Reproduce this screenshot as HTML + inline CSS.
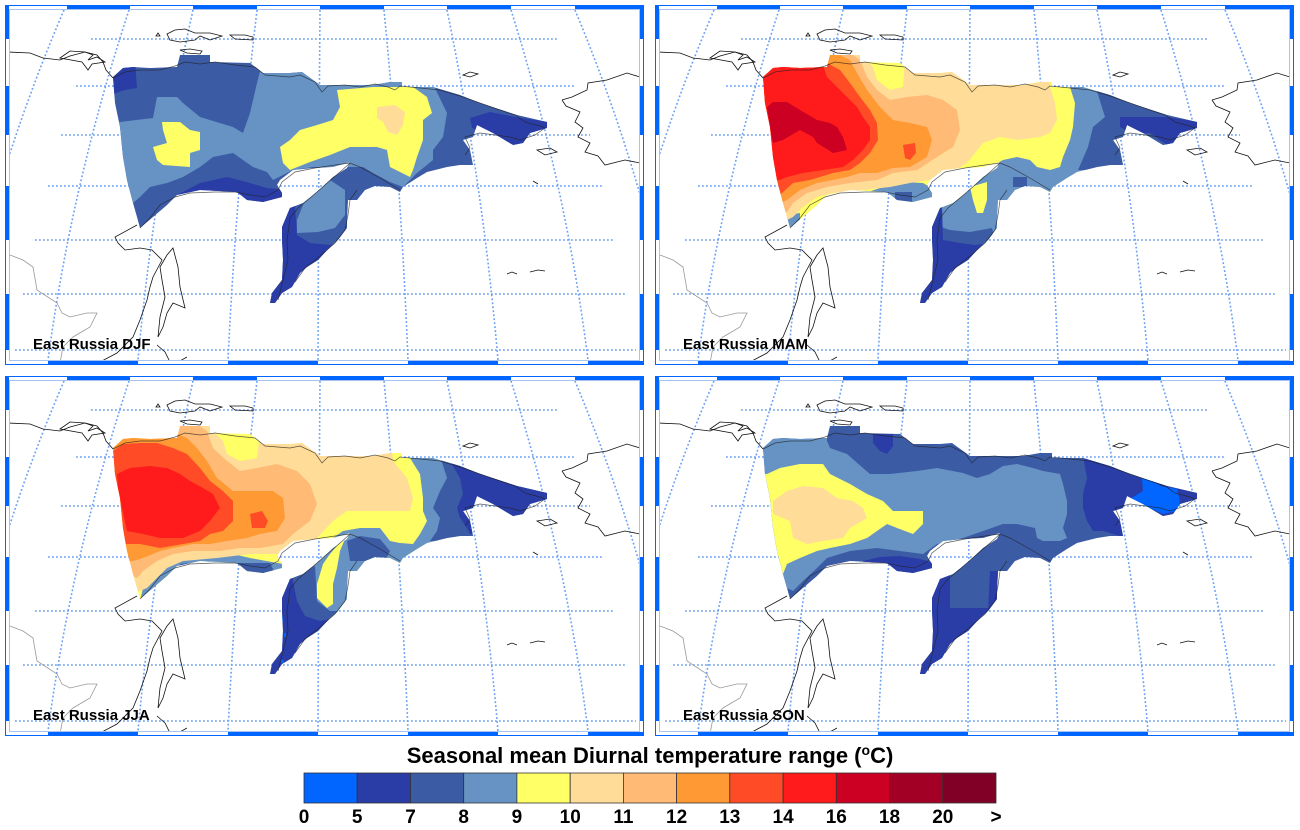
<!DOCTYPE html>
<html><head><meta charset="utf-8"><style>html,body{margin:0;padding:0;background:#fff}svg{display:block}</style></head>
<body>
<svg width="1300" height="830" viewBox="0 0 1300 830" xmlns="http://www.w3.org/2000/svg" font-family="'Liberation Sans', Arial, sans-serif">
<defs>
<clipPath id="blob"><polygon points="113,77 123,68 133,67 150,68 177,67 180,55 210,55 210,62 250,63 263,73 290,73 302,72 320,85 373,85 390,82 402,82 402,87 433,87 460,95 480,103 517,115 547,122 547,128 530,133 523,143 513,145 493,133 477,125 473,137 463,140 470,150 473,165 460,165 447,167 427,172 417,178 403,187 400,192 390,187 375,186 365,190 357,200 348,200 347,220 347,228 338,240 330,247 318,260 307,267 300,273 292,287 282,293 275,303 270,303 272,293 282,280 283,260 282,240 282,227 290,208 303,203 317,192 333,177 347,168 350,162 333,167 313,168 293,170 280,180 277,185 282,193 282,197 263,202 247,200 237,192 200,190 177,195 167,205 153,217 140,228 137,217 133,203 127,180 123,157 120,127 115,103"/></clipPath>
<clipPath id="inner"><rect x="9" y="9" width="631" height="352"/></clipPath>
<g id="bg">
<g clip-path="url(#inner)" fill="none" stroke="#6a9ff6" stroke-width="1.6" stroke-dasharray="1.8 2.2">
<path d="M91 39H558M76 86H575M61 135H590M48 186H603M35 240H615M23 294H627M15 350H636"/>
<path d="M64 10Q-11 185 -42 360M129 10Q71.5 185 48 360M193 10Q154 185 138 360M257 10Q236.4 185 228 360M320 10Q318.6 185 318 360M384 10Q401 185 408 360M447 10Q483 185 498 360M511 10Q566 185 588 360M575 10Q648 185 678 360"/>
</g>
<g clip-path="url(#inner)" fill="none" stroke="#111" stroke-width="0.8">
<path d="M8,52 L30,53 L43,58 L60,60 L70,56 L85,52 L97,55 L103,62 L106,70 L113,78"/>
<path d="M60,58 L70,51 L85,52 L93,55 L88,60 L97,57 L105,62 L92,64 L88,70 L82,62 Z"/>
<path d="M167,34 L175,30 L185,29 L195,33 L210,33 L222,36 L210,40 L200,36 L195,40 L180,42 L170,40 Z"/>
<path d="M230,35 L245,35 L253,37 L253,40 L235,39 Z"/>
<path d="M180,50 L190,49 L202,51 L200,54 L187,53 Z"/>
<path d="M156,36 L158,33 L160,36 Z"/>
<path d="M137,225 L115,237 L118,243 L125,250 L140,248 L152,250 L162,260 L153,277 L150,287 L147,300 L140,320 L133,337 L117,353 L100,362"/>
<path d="M173,248 L178,267 L180,287 L185,308 L173,303 L167,313 L163,327 L158,337 L160,317 L165,297 L162,280 L160,267 L167,255 Z"/>
<path d="M157,345 L165,352 L170,362 M178,362 L187,357"/>
<path d="M562,100 L572,97 L587,90 L588,83 L607,80 L627,73 L640,77"/>
<path d="M562,100 L566,106 L580,112 L575,122 L583,128 L578,137 L590,143 L585,152 L598,156 L605,165 L625,160 L640,163"/>
<path d="M463,75 L470,72 L478,74 L470,77 Z"/>
<path d="M537,150 L550,148 L557,152 L545,155 Z"/>
<path d="M533,181 L538,184"/>
<path d="M507,274 L512,272 L517,274 M530,272 L538,270 L545,271"/>
</g>
<path clip-path="url(#inner)" fill="none" stroke="#999" stroke-width="0.8" d="M10,255 L23,260 L33,267 L37,290 L57,303 L62,313 L70,317 L87,313 L97,313 L90,327 L73,337 L63,347 L60,363"/>
</g>
<g id="coast" fill="none" stroke="#222" stroke-width="0.7" stroke-opacity="0.75">
<path d="M113,78 L125,72 L140,70 L160,70 L175,66 L185,62 L200,64 L215,62 L235,65 L255,67 L265,75 L290,77 L300,75 L315,82 L322,92 L328,86 L345,85 L360,87 L375,84 L388,87 L395,90 L400,86 L420,88 L440,90 L460,96 L480,103 L500,110 L515,115 L525,122 L540,126 L545,128"/>
<path d="M545,128 L535,135 L520,140 L510,137 L495,135 L480,133 L465,137 L470,148 L465,155"/>
<path d="M140,228 L150,218 L160,205 L175,197 L190,193 L215,192 L235,192 L250,195 L265,197 L278,190 L282,182 L295,172 L315,168 L335,165 L350,163 L360,167 L380,178 L400,190"/>
<path d="M350,163 L340,172 L325,185 L310,198 L298,208 L290,218 L287,240 L288,260 L283,280 L278,300"/>
<path d="M357,190 L350,200 L348,215 L345,230 L335,243 L320,256 L305,268 L295,282"/>
</g>
<g id="fr">
<rect x="5.5" y="5.5" width="638" height="359" fill="none" stroke="#0066ff" stroke-width="1"/>
<rect x="9.5" y="9.5" width="630" height="351" fill="none" stroke="#a6c3f2" stroke-width="1"/>
<g fill="#0066ff">
<rect x="67" y="5" width="63" height="4"/><rect x="193" y="5" width="64" height="4"/><rect x="320" y="5" width="64" height="4"/><rect x="447" y="5" width="64" height="4"/><rect x="575" y="5" width="65" height="4"/>
<rect x="48" y="361" width="90" height="4"/><rect x="228" y="361" width="90" height="4"/><rect x="408" y="361" width="90" height="4"/><rect x="588" y="361" width="56" height="4"/>
<rect x="5" y="5" width="4" height="34"/><rect x="5" y="86" width="4" height="49"/><rect x="5" y="186" width="4" height="54"/><rect x="5" y="294" width="4" height="56"/>
<rect x="640" y="5" width="4" height="34"/><rect x="640" y="86" width="4" height="49"/><rect x="640" y="186" width="4" height="54"/><rect x="640" y="294" width="4" height="56"/>
</g>
</g>
</defs>

<!-- Panel 1 DJF -->
<g>
<use href="#bg"/>
<g clip-path="url(#blob)">
<rect x="90" y="40" width="480" height="280" fill="#3c5ba5"/>
<polygon fill="#6693c4" points="100,122 120,122 153,118 157,97 177,97 183,103 200,117 233,127 243,133 250,113 257,83 263,60 300,60 320,80 380,80 433,84 447,113 443,137 433,150 433,160 417,173 403,187 390,182 373,173 363,167 313,167 293,170 273,180 267,172 253,167 233,153 213,157 200,167 183,177 167,183 150,187 140,197 133,203 100,205"/>
<polygon fill="#6693c4" points="310,185 330,180 345,190 345,215 335,228 318,232 297,233 297,220 303,205"/>
<polygon fill="#2a3da6" points="100,60 135,60 137,88 125,90 110,95"/>
<polygon fill="#2a3da6" points="160,215 170,205 177,195 200,183 227,177 250,183 267,188 290,190 290,215"/>
<polygon fill="#2a3da6" points="275,205 295,205 297,235 310,243 330,245 350,238 350,320 260,320"/>
<polygon fill="#2a3da6" points="470,118 490,112 515,117 550,122 550,135 520,147 500,140 485,133 472,128"/>
<polygon fill="#ffff66" points="162,122 180,122 190,130 200,132 200,150 190,153 190,167 163,165 157,160 153,147 167,143 163,130"/>
<polygon fill="#ffff66" points="337,90 373,87 413,87 427,97 432,113 423,120 423,140 417,157 413,170 410,177 400,172 390,167 387,150 377,147 350,147 330,155 310,162 290,170 283,163 280,147 290,140 300,130 317,125 333,120 340,107"/>
<polygon fill="#ffdc98" points="377,107 395,105 405,112 403,125 397,135 388,132 383,122 377,118"/>
</g>
<use href="#coast"/>
<use href="#fr"/>
<text x="33" y="349" font-size="15" font-weight="bold" fill="#000">East Russia DJF</text>
</g>

<!-- Panel 2 MAM -->
<g transform="translate(650,0)">
<use href="#bg"/>
<g clip-path="url(#blob)">
<rect x="90" y="40" width="480" height="280" fill="#ffff66"/>
<polygon fill="#6693c4" points="420,60 420,87 425,103 423,127 420,140 413,157 410,167 400,170 387,167 380,160 367,157 353,160 340,167 330,177 320,183 300,195 270,220 260,320 600,320 600,60"/>
<polygon fill="#6693c4" points="210,200 215,193 233,187 253,182 273,183 285,190 285,210 210,210"/>
<polygon fill="#6693c4" points="137,215 150,213 150,225 137,228"/>
<polygon fill="#3c5ba5" points="245,192 262,192 262,202 245,202"/>
<polygon fill="#ffff66" points="320,187 337,182 337,200 333,213 327,213 323,200"/>
<polygon fill="#3c5ba5" points="445,60 445,85 455,117 443,127 438,147 428,170 600,170 600,60"/>
<polygon fill="#3c5ba5" points="363,177 377,177 377,187 363,187"/>
<polygon fill="#3c5ba5" points="285,225 300,230 320,232 342,228 345,240 330,245 285,245"/>
<polygon fill="#2a3da6" points="470,117 517,117 550,122 550,140 517,145 500,133 480,133 470,127"/>
<polygon fill="#2a3da6" points="275,205 292,205 293,240 310,243 325,245 345,242 345,320 260,320"/>
<polygon fill="#ffdc98" points="100,40 215,40 213,57 223,67 227,80 240,90 253,87 255,60 400,60 400,87 405,103 407,120 400,133 390,137 367,140 350,137 333,143 317,163 300,173 280,180 260,183 240,187 213,190 183,193 167,197 153,207 143,217 137,220 100,230"/>
<polygon fill="#ffba76" points="100,40 205,40 203,55 210,60 217,77 227,90 240,100 257,97 277,95 293,100 307,110 310,130 303,147 287,157 267,170 243,173 227,180 200,183 177,187 157,193 143,203 137,212 100,215"/>
<polygon fill="#ff9934" points="100,40 190,40 190,55 200,60 207,73 217,90 230,107 243,120 260,123 277,127 282,140 277,157 260,167 243,168 227,173 210,173 197,177 183,180 167,183 150,190 137,200 132,202 100,205"/>
<polygon fill="#ff4c26" points="100,40 177,40 177,63 190,70 200,83 210,97 220,110 227,123 228,140 220,153 210,163 200,170 183,173 160,180 143,183 132,193 130,195 100,195"/>
<polygon fill="#ff4c26" points="253,145 265,143 266,153 260,160 255,158"/>
<polygon fill="#ff1b1b" points="100,40 173,40 173,65 177,77 187,87 197,97 207,107 213,117 220,127 220,140 213,150 203,160 193,167 173,170 153,173 137,177 130,180 100,180"/>
<polygon fill="#cc0022" points="117,107 123,102 137,102 150,110 167,120 180,123 187,127 193,137 197,150 183,153 167,143 163,137 150,130 133,140 123,143 120,127"/>
</g>
<use href="#coast"/>
<use href="#fr"/>
<text x="33" y="349" font-size="15" font-weight="bold" fill="#000">East Russia MAM</text>
</g>

<!-- Panel 3 JJA -->
<g transform="translate(0,371)">
<use href="#bg"/>
<g clip-path="url(#blob)">
<rect x="90" y="40" width="480" height="280" fill="#ffff66"/>
<polygon fill="#6693c4" points="410,60 410,87 420,103 423,127 423,140 427,150 420,163 413,173 400,172 390,170 380,157 360,157 343,160 333,167 327,180 317,187 300,195 270,220 260,320 600,320 600,60"/>
<polygon fill="#6693c4" points="140,230 143,217 153,207 167,193 180,187 207,185 233,183 250,187 283,193 290,215"/>
<polygon fill="#3c5ba5" points="180,193 210,190 215,197 180,200"/>
<polygon fill="#3c5ba5" points="235,192 270,192 275,202 235,202"/>
<polygon fill="#3c5ba5" points="347,170 360,165 380,168 390,180 385,190 350,190"/>
<polygon fill="#3c5ba5" points="290,205 315,195 317,230 330,240 345,240 345,255 285,255"/>
<polygon fill="#ffff66" points="347,163 340,180 337,197 333,213 333,233 327,237 317,227 317,213 323,193 330,183"/>
<polygon fill="#3c5ba5" points="440,60 440,85 447,107 440,120 433,137 440,147 437,160 430,170 600,170 600,60"/>
<polygon fill="#2a3da6" points="447,60 447,85 460,107 463,123 457,137 460,147 467,157 470,163 600,163 600,60"/>
<polygon fill="#2a3da6" points="275,205 292,205 297,230 305,245 320,250 345,245 345,320 260,320"/>
<rect x="281" y="246" width="2" height="4" fill="#0066ff"/>
<rect x="284" y="262" width="2" height="4" fill="#0066ff"/>
<rect x="281" y="289" width="3" height="3" fill="#0066ff"/>
<polygon fill="#ffdc98" points="100,40 210,40 210,57 223,70 227,83 240,90 257,87 260,60 390,60 393,90 407,107 413,127 410,140 393,140 373,140 347,140 333,150 317,167 300,177 283,183 250,183 217,187 183,190 167,197 157,207 147,217 140,220 100,225"/>
<polygon fill="#ffba76" points="100,40 197,40 197,53 207,60 213,77 227,90 240,100 257,97 277,93 297,100 310,113 317,133 310,150 293,163 283,173 260,177 240,177 220,180 193,180 173,183 157,190 143,200 137,207 133,205 100,210"/>
<polygon fill="#ff9934" points="100,40 177,40 177,63 187,67 197,77 207,90 217,107 233,120 253,120 273,120 283,127 285,147 277,160 260,163 247,167 227,170 210,173 193,173 173,177 160,180 143,187 133,190 130,190 100,195"/>
<polygon fill="#ff4c26" points="100,40 113,40 113,80 123,73 140,72 157,72 173,77 187,83 200,97 210,110 223,120 233,130 233,150 223,160 210,163 200,170 183,173 160,177 140,173 127,173 100,175"/>
<polygon fill="#ff4c26" points="250,143 262,140 268,150 265,157 252,157"/>
<polygon fill="#ff1b1b" points="117,103 130,97 150,95 167,97 180,103 190,110 203,117 213,123 220,137 210,150 200,160 183,167 160,167 143,163 127,160 122,137 118,117"/>
</g>
<use href="#coast"/>
<use href="#fr"/>
<text x="33" y="349" font-size="15" font-weight="bold" fill="#000">East Russia JJA</text>
</g>

<!-- Panel 4 SON -->
<g transform="translate(650,371)">
<use href="#bg"/>
<g clip-path="url(#blob)">
<rect x="90" y="40" width="480" height="280" fill="#3c5ba5"/>
<polygon fill="#6693c4" points="100,60 177,60 177,70 180,77 197,83 213,97 220,103 240,103 267,100 287,97 313,102 327,107 340,103 353,95 367,93 383,97 393,100 410,103 413,113 417,130 417,143 413,157 417,167 410,170 393,170 387,167 385,157 367,153 353,153 333,160 313,167 300,170 287,173 273,183 250,180 227,177 200,180 177,187 167,197 153,210 143,220 137,217 100,230"/>
<polygon fill="#2a3da6" points="223,63 243,63 243,75 237,83 230,80 223,72"/>
<polygon fill="#2a3da6" points="213,190 230,186 250,185 270,188 285,192 285,210 213,210"/>
<polygon fill="#2a3da6" points="433,60 433,85 437,107 433,123 433,137 437,150 443,160 453,160 470,165 600,165 600,60"/>
<polygon fill="#2a3da6" points="270,195 300,195 300,237 345,237 345,320 260,320"/>
<polygon fill="#2a3da6" points="340,200 352,200 352,240 338,240"/>
<polygon fill="#0066ff" points="492,107 500,105 510,115 527,118 530,130 527,140 513,143 500,137 480,128 493,120"/>
<polygon fill="#ffff66" points="100,103 117,103 130,97 150,93 173,93 180,103 200,113 217,123 233,130 243,140 260,140 273,140 273,153 263,163 247,157 237,153 227,160 217,167 200,173 180,177 167,180 150,187 137,193 133,203 110,200"/>
<polygon fill="#ffdc98" points="137,120 153,115 173,117 187,127 203,130 213,137 217,147 200,157 193,167 173,170 157,173 143,167 140,150 123,143 123,130"/>
</g>
<use href="#coast"/>
<use href="#fr"/>
<text x="33" y="349" font-size="15" font-weight="bold" fill="#000">East Russia SON</text>
</g>

<!-- Colorbar -->
<text x="650" y="763" font-size="22" font-weight="bold" text-anchor="middle" fill="#000">Seasonal mean Diurnal temperature range (<tspan font-size="14" dy="-8">o</tspan><tspan dy="8">C)</tspan></text>
<g stroke="#333" stroke-width="0.8">
<rect x="304" y="773" width="53.2" height="30" fill="#0066ff"/>
<rect x="357.2" y="773" width="53.3" height="30" fill="#2a3da6"/>
<rect x="410.5" y="773" width="53.2" height="30" fill="#3c5ba5"/>
<rect x="463.7" y="773" width="53.2" height="30" fill="#6693c4"/>
<rect x="516.9" y="773" width="53.3" height="30" fill="#ffff66"/>
<rect x="570.2" y="773" width="53.2" height="30" fill="#ffdc98"/>
<rect x="623.4" y="773" width="53.2" height="30" fill="#ffba76"/>
<rect x="676.6" y="773" width="53.2" height="30" fill="#ff9934"/>
<rect x="729.8" y="773" width="53.3" height="30" fill="#ff4c26"/>
<rect x="783.1" y="773" width="53.2" height="30" fill="#ff1b1b"/>
<rect x="836.3" y="773" width="53.2" height="30" fill="#cc0022"/>
<rect x="889.5" y="773" width="53.3" height="30" fill="#a30026"/>
<rect x="942.8" y="773" width="53.2" height="30" fill="#800026"/>
</g>
<g font-size="19" font-weight="bold" text-anchor="middle" fill="#000">
<text x="304" y="823">0</text>
<text x="357.2" y="823">5</text>
<text x="410.5" y="823">7</text>
<text x="463.7" y="823">8</text>
<text x="516.9" y="823">9</text>
<text x="570.2" y="823">10</text>
<text x="623.4" y="823">11</text>
<text x="676.6" y="823">12</text>
<text x="729.8" y="823">13</text>
<text x="783.1" y="823">14</text>
<text x="836.3" y="823">16</text>
<text x="889.5" y="823">18</text>
<text x="942.8" y="823">20</text>
<text x="996" y="823">&gt;</text>
</g>
</svg>
</body></html>
